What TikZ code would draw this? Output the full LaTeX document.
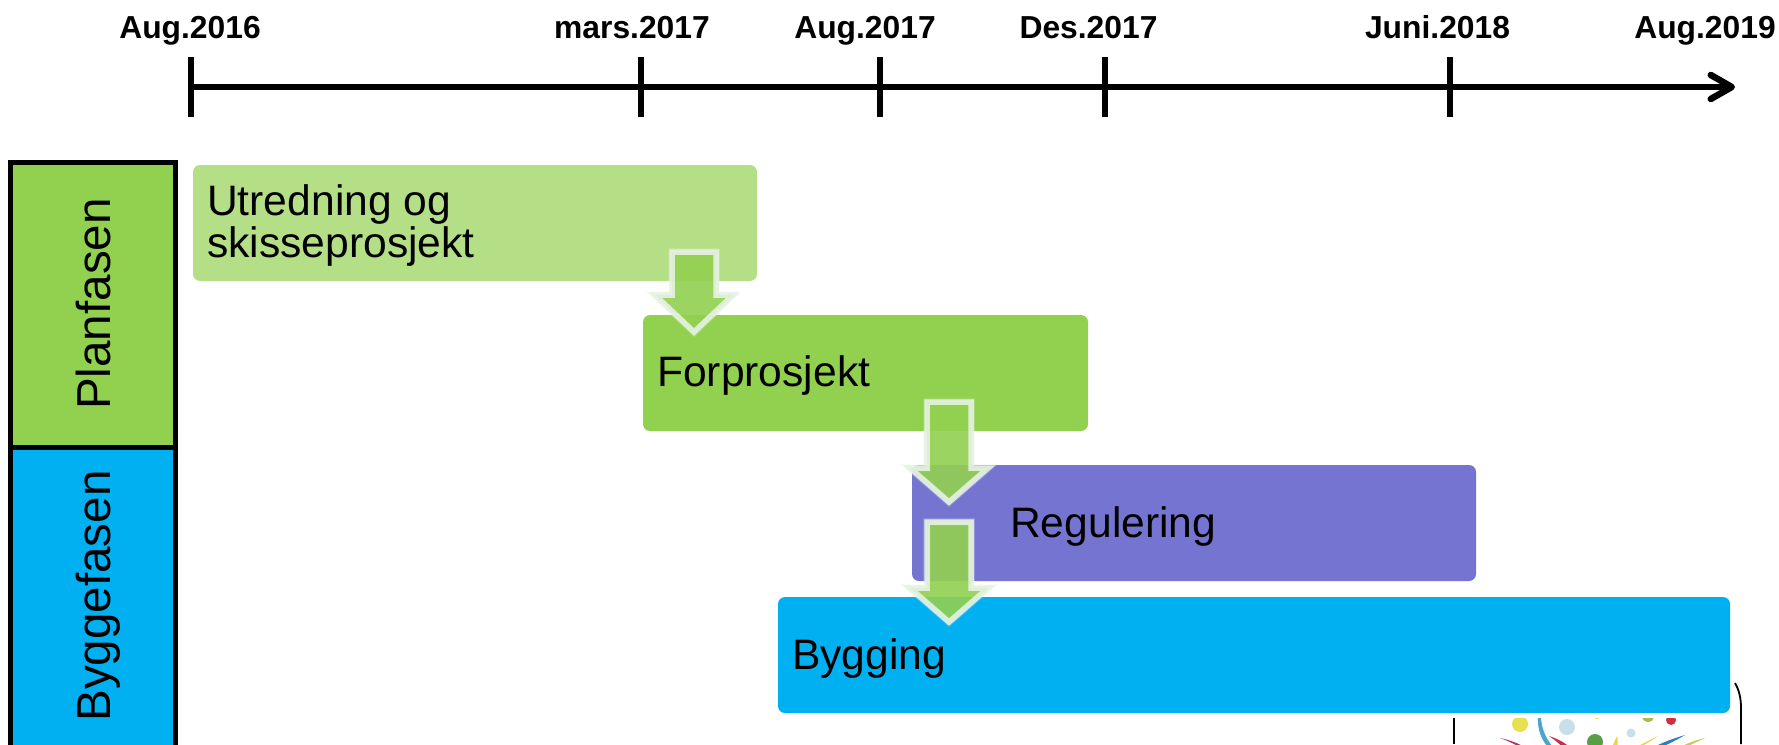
\documentclass[tikz,border=0pt]{standalone}
\usepackage{fontspec}
\setmainfont{Liberation Sans}
\usetikzlibrary{arrows.meta}
\definecolor{lightgreen}{HTML}{B5DF87}
\definecolor{midgreen}{HTML}{92D050}
\definecolor{purple}{HTML}{7575D1}
\definecolor{skyblue}{HTML}{00B0F0}
\definecolor{arrowedge}{HTML}{E6F2E2}
\definecolor{dotyellow}{HTML}{E8E050}
\definecolor{dotblue}{HTML}{C8DEE8}
\definecolor{dotgreen}{HTML}{55A045}
\definecolor{dotred}{HTML}{CF3040}
\definecolor{dotolive}{HTML}{A8BC50}
\definecolor{ribblue}{HTML}{4BA5CE}
\definecolor{ribmag}{HTML}{B0306F}
\definecolor{ribcrim}{HTML}{C43050}
\definecolor{ribyel}{HTML}{E8D850}
\definecolor{ribnavy}{HTML}{2F7FB8}
\definecolor{ribolive}{HTML}{C8CC60}
\tikzset{
  x=1pt,y=-1pt,
  phase/.style={rounded corners=7pt,inner sep=0pt,outer sep=0pt},
  bartext/.style={font=\fontsize{42.6}{42}\selectfont,anchor=west,align=left,inner sep=0pt,text=black},
  datelabel/.style={font=\fontsize{31.8}{36}\selectfont\bfseries,inner sep=0pt,anchor=base,text=black},
  tick/.style={line width=6pt},
  sidebox/.style={draw=black,line width=5pt},
  sidetext/.style={font=\fontsize{47.6}{50}\selectfont,rotate=90,inner sep=0pt,anchor=base,text=black},
  pics/flowarrow/.style 2 args={code={
    \draw[draw=arrowedge,draw opacity=.25,line width=7.5pt,miter limit=10]
      (-22,0) -- (-22,#1) -- (-39,#1) -- (0,#2) -- (39,#1) -- (22,#1) -- (22,0) -- cycle;
    \draw[draw=arrowedge,draw opacity=.9,line width=5.5pt,fill=midgreen,fill opacity=.9,miter limit=10]
      (-22,0) -- (-22,#1) -- (-39,#1) -- (0,#2) -- (39,#1) -- (22,#1) -- (22,0) -- cycle;
  }},
}
\begin{document}
\begin{tikzpicture}
\useasboundingbox (0,0) rectangle (1779,744);
\fill[white] (0,0) rectangle (1779,744);
% timeline
\coordinate (tstart) at (190.5,87);
\coordinate (tend) at (1735,87);
\draw[line width=6.5pt,-{Straight Barb[round,length=21pt,width=24pt,line width=6.5pt]}] (tstart) -- (tend);
\foreach \x in {190.5,640.5,880,1104.5,1450}{
  \draw[tick] (\x,57) -- (\x,117);
}
\node[datelabel] (la) at (190,38.5) {Aug.2016};
\node[datelabel] (lb) at (632,38.5) {mars.2017};
\node[datelabel] (lc) at (865,38.5) {Aug.2017};
\node[datelabel] (ld) at (1088.5,38.5) {Des.2017};
\node[datelabel] (le) at (1437.5,38.5) {Juni.2018};
\node[datelabel] (lf) at (1705,38.5) {Aug.2019};
% side column
\draw[sidebox,fill=midgreen] (10.5,162) rectangle (175,447);
\draw[sidebox,fill=skyblue] (10.5,447) rectangle (175,760);
\node[sidetext] (plan) at (110,304) {Planfasen};
\node[sidetext] (bygg) at (110,596) {Byggefasen};
% picture fragment
\begin{scope}
\clip (1456,718) rectangle (1779,744);
\fill[dotyellow] (1520,724) circle (8);
\fill[dotblue] (1567,727) circle (8);
\fill[dotgreen] (1595,742) circle (8);
\fill[dotblue] (1631,733) circle (4.5);
\fill[dotred] (1671,720) circle (5);
\fill[dotolive] (1648,716) circle (6);
\fill[ribyel] (1597,715) circle (4);
\fill[ribblue] (1538,716) .. controls (1537,730) and (1542,740) .. (1547,746) -- (1552,746) .. controls (1546,738) and (1541,728) .. (1541,716) -- cycle;
\fill[ribmag] (1500,738) .. controls (1510,740) and (1520,744) .. (1526,748) -- (1521,748) .. controls (1515,744) and (1508,741) .. (1500,738) -- cycle;
\fill[ribcrim] (1549,736) .. controls (1558,739) and (1566,743) .. (1570,748) -- (1563,748) .. controls (1560,744) and (1555,740) .. (1549,736) -- cycle;
\fill[ribyel] (1617,736) .. controls (1618,740) and (1618,744) .. (1617,748) -- (1612,748) .. controls (1613,744) and (1615,740) .. (1617,736) -- cycle;
\fill[ribyel] (1658,736) .. controls (1650,742) and (1644,745) .. (1638,748) -- (1634,748) .. controls (1642,744) and (1650,740) .. (1658,736) -- cycle;
\fill[ribnavy] (1685,735) .. controls (1675,741) and (1668,744) .. (1660,748) -- (1656,746) .. controls (1666,741) and (1675,738) .. (1685,735) -- cycle;
\fill[ribolive] (1705,738) .. controls (1697,742) and (1690,745) .. (1684,748) -- (1680,747) .. controls (1688,743) and (1696,740) .. (1705,738) -- cycle;
\end{scope}
\draw[black,line width=1.6pt] (1454,718) -- (1454,744);
\draw[black,line width=1.8pt] (1735,683) .. controls (1739,690) and (1741,698) .. (1741,708) -- (1741,744);
% bars
\fill[lightgreen,phase] (193,165) rectangle (757,281);
\node[bartext] (t1) at (207,225) {Utredning og\\skisseprosjekt};
\fill[midgreen,phase] (643,315) rectangle (1088,431);
\node[bartext] (t2) at (657,375) {Forprosjekt};
\fill[purple,phase] (912,465) rectangle (1476,581);
\node[bartext] (t3) at (1010,526) {Regulering};
\fill[skyblue,phase] (778,597) rectangle (1730,713);
\node[bartext] (t4) at (792,658) {Bygging};
% arrows
\pic at (694,252) {flowarrow={43}{80}};
\pic at (949,402) {flowarrow={66}{100}};
\pic at (949,522) {flowarrow={66}{100}};
\end{tikzpicture}
\end{document}
